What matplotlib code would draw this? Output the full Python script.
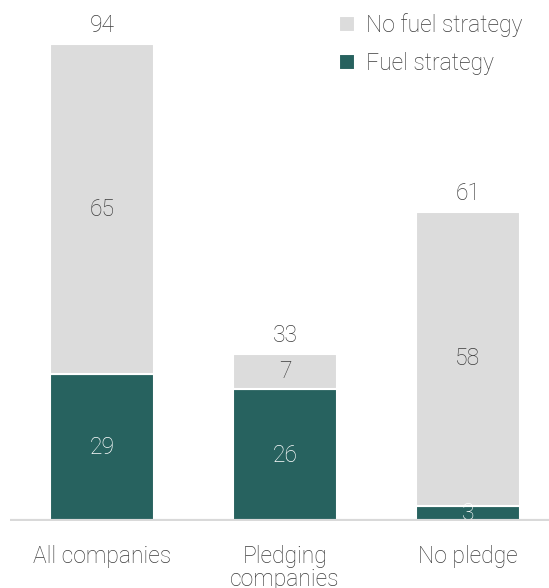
import matplotlib.pyplot as plt
import numpy as np

plt.rcParams['font.family'] = ['Roboto', 'DejaVu Sans']

categories = ['All companies', 'Pledging\ncompanies', 'No pledge']
fuel_strategy = [29, 26, 3]
no_fuel_strategy = [65, 7, 58]

teal = '#27625f'
grey = '#dcdcdc'
text_col = '#3c3c3c'

fig = plt.figure(figsize=(5.49, 5.88), dpi=100)
ax = fig.add_axes([10 / 549, 67 / 588, 539 / 549, 521 / 588])

x = np.arange(len(categories))
width = 0.568
totals = [a + b for a, b in zip(fuel_strategy, no_fuel_strategy)]

b1 = ax.bar(x, fuel_strategy, width, color=teal, edgecolor='white', linewidth=1.5,
            label='Fuel strategy')
b2 = ax.bar(x, no_fuel_strategy, width, bottom=fuel_strategy, color=grey,
            edgecolor='white', linewidth=1.5, label='No fuel strategy')

fs = 16.5
wt = 'light'
for i in range(len(categories)):
    ax.text(x[i], fuel_strategy[i] / 2, str(fuel_strategy[i]), ha='center', va='center',
            color='white', fontsize=fs, fontweight=wt)
    ax.text(x[i], fuel_strategy[i] + no_fuel_strategy[i] / 2, str(no_fuel_strategy[i]),
            ha='center', va='center', color=text_col, fontsize=fs, fontweight=wt)
    ax.text(x[i], totals[i] + 3.6, str(totals[i]), ha='center', va='center',
            color=text_col, fontsize=fs, fontweight=wt)

ax.axhline(0, color='#d9d9d9', lw=3, zorder=3)
ax.set_xlim(-0.503, 2.443)
ax.set_ylim(0, 102.7)
ax.set_xticks(x)
ax.set_xticklabels(categories, fontsize=fs, color=text_col, fontweight=wt,
                   linespacing=1.0)
ax.tick_params(axis='x', length=0, pad=17)
ax.set_yticks([])
for s in ax.spines.values():
    s.set_visible(False)

leg = ax.legend(handles=[b2, b1], loc='upper left', bbox_to_anchor=(0.572, 1.015),
                frameon=False, fontsize=fs, handlelength=0.72, handleheight=0.72,
                handletextpad=0.45, labelspacing=0.68, labelcolor=text_col)
for t in leg.get_texts():
    t.set_fontweight(wt)

fig.savefig('out.png', dpi=100)
